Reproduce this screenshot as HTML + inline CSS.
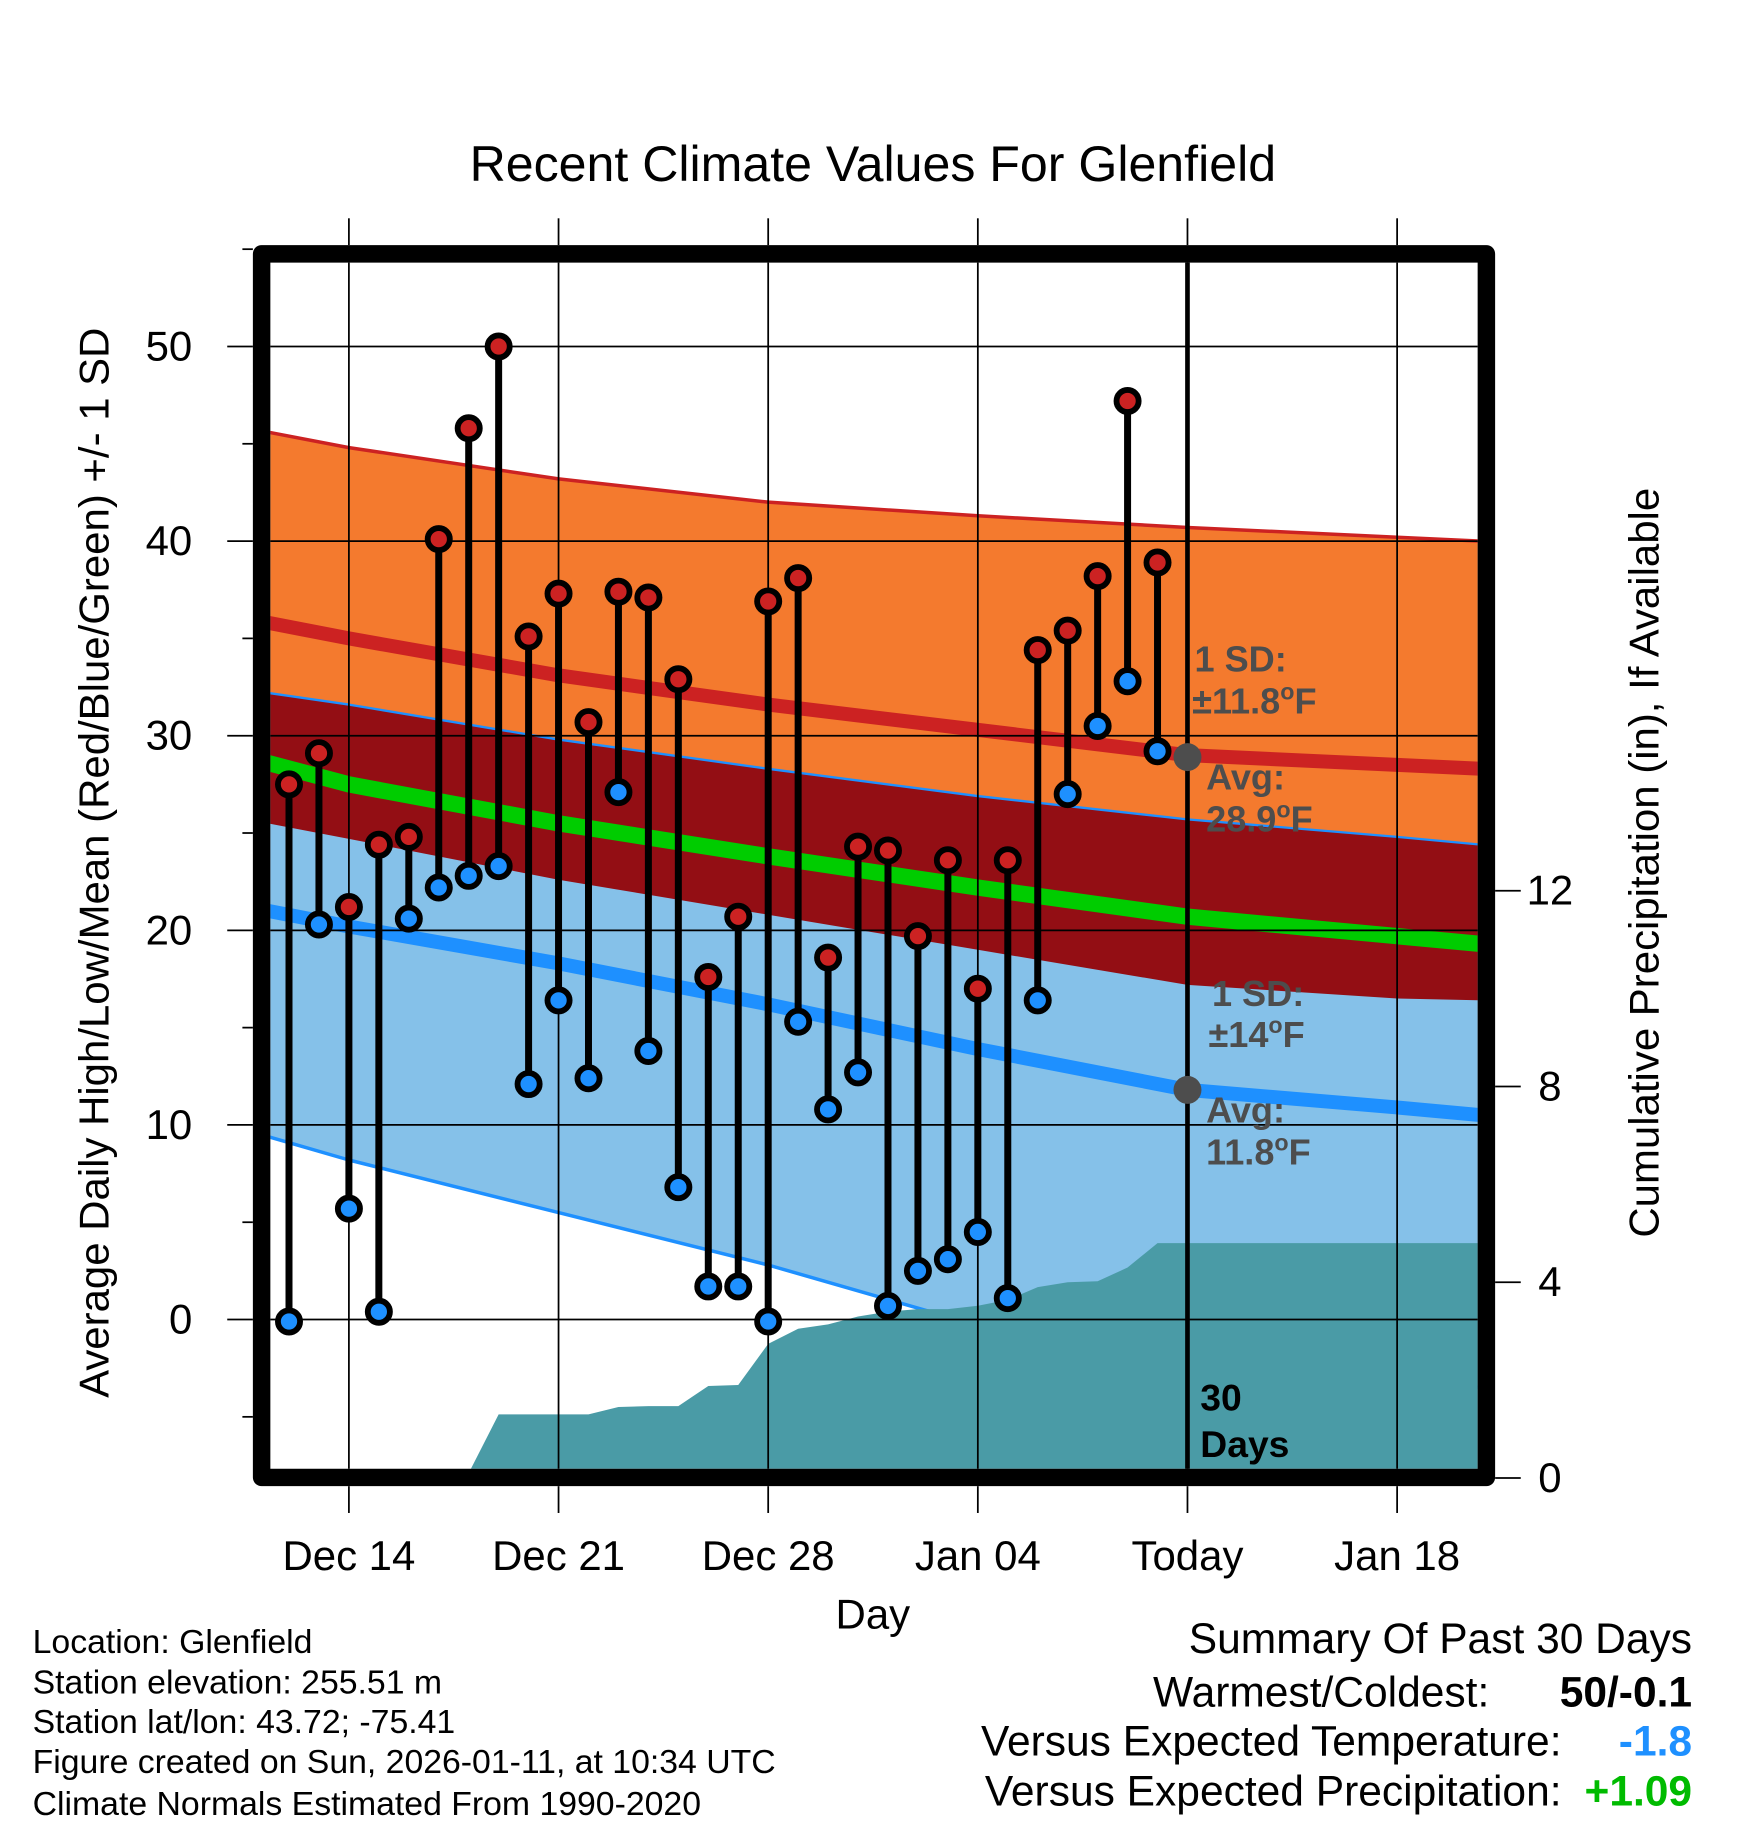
<!DOCTYPE html>
<html><head><meta charset="utf-8"><style>
html,body{margin:0;padding:0;background:#fff;}
svg{display:block;font-family:"Liberation Sans",Arial,sans-serif;}
</style></head><body>
<svg id="chart" width="1748" height="1828" viewBox="0 0 1500 1568" xmlns="http://www.w3.org/2000/svg">
<defs><clipPath id="plotclip"><rect x="232" y="225" width="1036" height="1035"/></clipPath></defs>
<rect width="1500" height="1568" fill="#fff"/>
<text x="749" y="155" font-size="43" text-anchor="middle">Recent Climate Values For Glenfield</text>
<g id="plot" clip-path="url(#plotclip)"></g>
<g id="over"></g>
<text transform="translate(93,740) rotate(-90)" font-size="36" text-anchor="middle">Average Daily High/Low/Mean (Red/Blue/Green) +/- 1 SD</text>
<text transform="translate(1423,740) rotate(-90)" font-size="36" text-anchor="middle">Cumulative Precipitation (in), If Available</text>
<text x="749" y="1397" font-size="36" text-anchor="middle">Day</text>
<g font-size="29">
<text x="28" y="1418">Location: Glenfield</text>
<text x="28" y="1453">Station elevation: 255.51 m</text>
<text x="28" y="1487">Station lat/lon: 43.72; -75.41</text>
<text x="28" y="1521">Figure created on Sun, 2026-01-11, at 10:34 UTC</text>
<text x="28" y="1557">Climate Normals Estimated From 1990-2020</text>
</g>
<g font-size="36.5" text-anchor="end">
<text x="1452" y="1418">Summary Of Past 30 Days</text>
<text x="1278" y="1464">Warmest/Coldest:</text>
<text x="1452" y="1464" font-weight="bold">50/-0.1</text>
<text x="1340" y="1506">Versus Expected Temperature:</text>
<text x="1452" y="1506" font-weight="bold" fill="#1e90ff">-1.8</text>
<text x="1340" y="1549">Versus Expected Precipitation:</text>
<text x="1452" y="1549" font-weight="bold" fill="#00bb00">+1.09</text>
</g>
<script>
const dayLabels=["Dec 14","Dec 21","Dec 28","Jan 04","Today","Jan 18"];
const dayTicks=[2,9,16,23,30,37];
const highs=[27.5,29.1,21.2,24.4,24.8,40.1,45.8,50,35.1,37.3,30.7,37.4,37.1,32.9,17.6,20.7,36.9,38.1,18.6,24.3,24.1,19.7,23.6,17.0,23.6,34.4,35.4,38.2,47.2,38.9];
const lows=[-0.1,20.3,5.7,0.4,20.6,22.2,22.8,23.3,12.1,16.4,12.4,27.1,13.8,6.8,1.7,1.7,-0.1,15.3,10.8,12.7,0.7,2.5,3.1,4.5,1.1,16.4,27.0,30.5,32.8,29.2];
const precip=[0,0,0,0,0,0,0.1,1.3,1.3,1.3,1.3,1.45,1.47,1.47,1.88,1.9,2.74,3.05,3.14,3.3,3.4,3.45,3.45,3.52,3.64,3.9,4.0,4.02,4.3,4.8];
const normDays=[-0.7,2,9,16,23,30,37,39.8];
const highPlusSD=[45.6,44.8,43.2,42.0,41.3,40.7,40.2,40.0];
const normHigh=[35.8,35.0,33.1,31.6,30.3,29.0,28.5,28.3];
const lowPlusSD=[32.2,31.6,29.8,28.3,26.9,25.7,24.8,24.4];
const normMean=[28.6,27.5,25.5,23.8,22.2,20.7,19.7,19.3];
const highMinusSD=[25.5,24.7,22.6,20.8,19.0,17.2,16.5,16.4];
const normLow=[21.0,20.2,18.3,16.2,13.9,11.8,10.9,10.5];
const lowMinusSD=[9.4,8.2,5.5,2.8,-0.3,-2.2,-3.1,-3.5];
const yTicks=[0,10,20,30,40,50];
const y2Ticks=[0,4,8,12];

const NS="http://www.w3.org/2000/svg";
const X=d=>248+d*25.7;
const Y=v=>1132-v*16.7;
const YP=p=>1268-p*42;
const plot=document.getElementById('plot');
const over=document.getElementById('over');
function mk(tag,attrs,parent){const e=document.createElementNS(NS,tag);for(const k in attrs)e.setAttribute(k,attrs[k]);parent.appendChild(e);return e;}
function pts(xs,ys){return xs.map((d,i)=>X(d).toFixed(1)+','+Y(ys[i]).toFixed(1));}
function band(top,bot,fill,name){
  const p=pts(normDays,top).concat(pts(normDays,bot).reverse());
  const e=mk('polygon',{points:p.join(' '),fill:fill},plot);
  
  
}
function line(vals,color,w,name){
  const e=mk('polyline',{points:pts(normDays,vals).join(' '),fill:'none',stroke:color,'stroke-width':w,'stroke-linejoin':'round'},plot);
  
  
}
band(highPlusSD,highMinusSD,'#f47a2e','high-sd-band');
band(lowPlusSD,lowMinusSD,'#85c1e9','low-sd-band');
band(lowPlusSD,highMinusSD,'#930e14','overlap-band');
line(highPlusSD,'#cc2222',3,'high-plus-sd-line');
line(lowPlusSD,'#1e90ff',2,'low-plus-sd-line');
line(lowMinusSD,'#1e90ff',3,'low-minus-sd-line');
line(normHigh,'#cc2222',12,'normal-high-line');
line(normMean,'#00cc00',14,'normal-mean-line');
line(normLow,'#1e90ff',12,'normal-low-line');
{
  let p=[X(-1)+','+YP(0)];
  precip.forEach((v,i)=>p.push(X(i)+','+YP(v)));
  p.push(X(41)+','+YP(precip[precip.length-1]));
  p.push(X(41)+','+YP(0));
  const e=mk('polygon',{points:p.join(' '),fill:'#4a9ba6'},plot);
  
  
}
yTicks.forEach(v=>{const e=mk('line',{x1:225,x2:1276,y1:Y(v),y2:Y(v),stroke:'#000','stroke-width':1.5},plot);

});
dayTicks.forEach(d=>{const e=mk('line',{x1:X(d),x2:X(d),y1:217,y2:1268,stroke:'#000','stroke-width':1.5},plot);

});
{const e=mk('line',{x1:X(30),x2:X(30),y1:217,y2:1268,stroke:'#000','stroke-width':4},plot);

}
highs.forEach((h,i)=>{
  const s=mk('line',{x1:X(i),x2:X(i),y1:Y(h),y2:Y(lows[i]),stroke:'#000','stroke-width':6},plot);
  
  
});
highs.forEach((h,i)=>{
  const c=mk('circle',{cx:X(i),cy:Y(h),r:9.5,fill:'#cc2222',stroke:'#000','stroke-width':5},plot);
  
  
  const c2=mk('circle',{cx:X(i),cy:Y(lows[i]),r:9.5,fill:'#1e90ff',stroke:'#000','stroke-width':5},plot);
  
  
});
[28.9,11.8].forEach(v=>{const c=mk('circle',{cx:X(30),cy:Y(v),r:12,fill:'#4d4d4d'},plot);

});
function txt(s,x,y,attrs,name,degF){
  const t=mk('text',Object.assign({x:x,y:y},attrs),over);
  t.appendChild(document.createTextNode(s));
  if(degF){
    const o=mk('tspan',{dy:-12,'font-size':20},t);
    o.appendChild(document.createTextNode('o'));
    const f=mk('tspan',{dy:12},t);
    f.appendChild(document.createTextNode('F'));
  }
  
  
  return t;
}
const ga={'font-size':31,'font-weight':'bold',fill:'#4d4d4d'};
txt('1 SD:',1025,576,ga,'high-sd-label');
txt('±11.8',1023,612,ga,'high-sd-value',true);
txt('Avg:',1035,677,ga,'high-avg-label');
txt('28.9',1035,713,ga,'high-avg-value',true);
txt('1 SD:',1040,863,ga,'low-sd-label');
txt('±14',1037,898,ga,'low-sd-value',true);
txt('Avg:',1035,963,ga,'low-avg-label');
txt('11.8',1035,999,ga,'low-avg-value',true);
txt('30',1030,1210,{'font-size':32,'font-weight':'bold'},'days-label-num');
txt('Days',1030,1250,{'font-size':32,'font-weight':'bold'},'days-label');
{const f=mk('rect',{x:224.5,y:217.5,width:1051,height:1050,fill:'none',stroke:'#000','stroke-width':15,'stroke-linejoin':'round'},over);

}
for(let v=-5;v<=55;v+=5){const major=v%10===0;const e=mk('line',{x1:major?195:208,x2:217,y1:Y(v),y2:Y(v),stroke:'#000','stroke-width':1.5},over);

}
yTicks.forEach(v=>txt(String(v),165,Y(v)+12,{'font-size':36,'text-anchor':'end'},'y-tick-label'));
y2Ticks.forEach(p=>{const e=mk('line',{x1:1283,x2:1305,y1:YP(p),y2:YP(p),stroke:'#000','stroke-width':1.5},over);


txt(String(p),1330,YP(p)+12,{'font-size':36,'text-anchor':'middle'},'y2-tick-label');});
dayTicks.forEach((d,i)=>{
  const a=mk('line',{x1:X(d),x2:X(d),y1:187,y2:210,stroke:'#000','stroke-width':1.5},over);
  
  
  const b=mk('line',{x1:X(d),x2:X(d),y1:1275,y2:1298,stroke:'#000','stroke-width':1.5},over);
  
  
  txt(dayLabels[i],X(d),1347,{'font-size':36,'text-anchor':'middle'},'x-tick-label');
});
</script>
</svg>
</body></html>
